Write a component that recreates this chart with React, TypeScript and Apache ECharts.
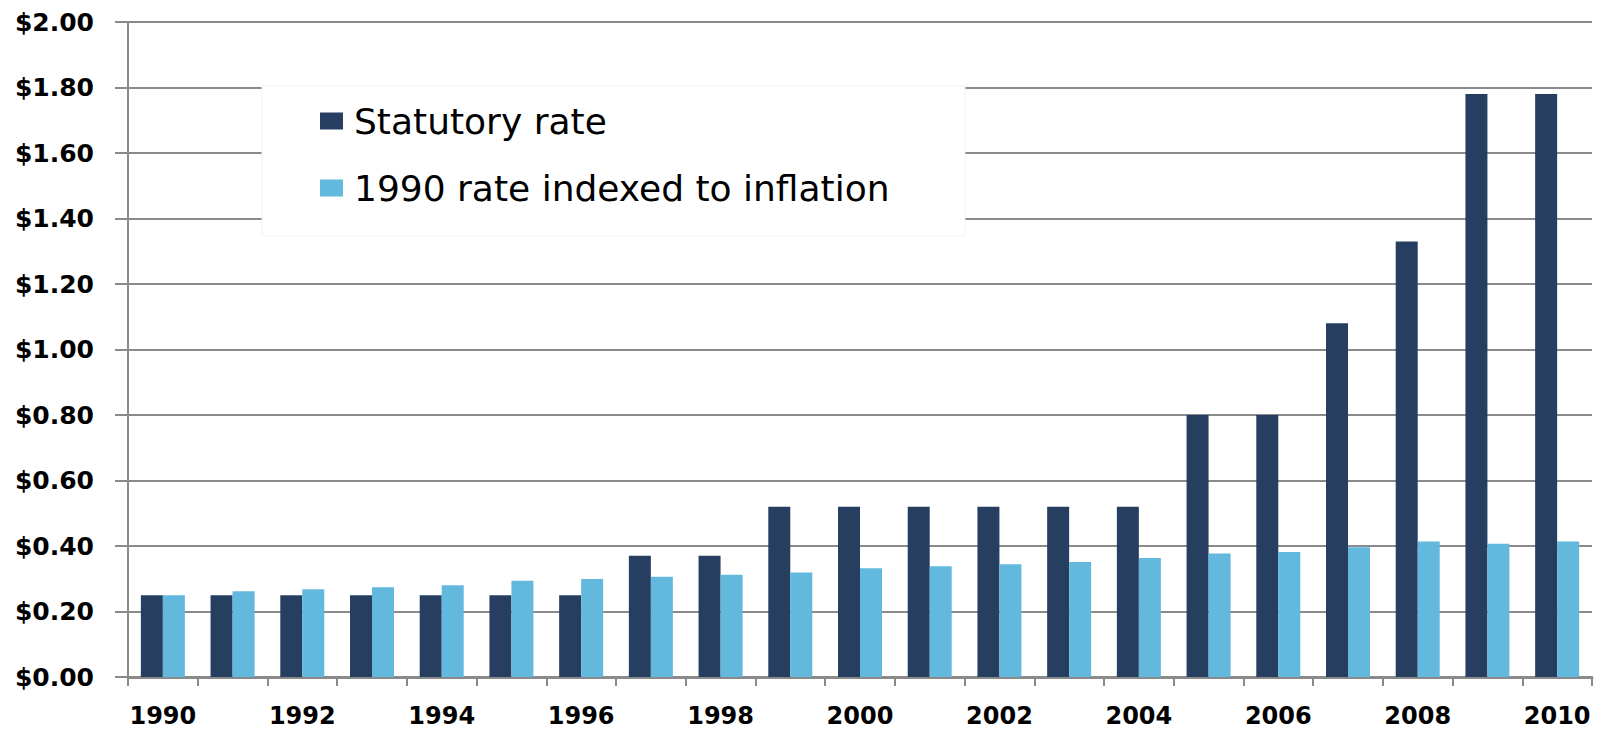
import React, { useEffect, useRef } from "react";
import * as echarts from "echarts";

const years = ["1990","1991","1992","1993","1994","1995","1996","1997","1998","1999","2000","2001","2002","2003","2004","2005","2006","2007","2008","2009","2010"];
const statutoryRate = [0.25,0.25,0.25,0.25,0.25,0.25,0.25,0.37,0.37,0.52,0.52,0.52,0.52,0.52,0.52,0.80,0.80,1.08,1.33,1.78,1.78];
const indexedRate = [0.25,0.262,0.268,0.274,0.28,0.294,0.299,0.306,0.312,0.319,0.332,0.338,0.344,0.351,0.363,0.377,0.382,0.396,0.414,0.407,0.414];
const seriesNames = ["Statutory rate", "1990 rate indexed to inflation"];

export default function App() {
  const ref = useRef<HTMLDivElement>(null);
  useEffect(() => {
    document.body.style.margin = "0";
    const chart = echarts.init(ref.current!, undefined, { renderer: "svg" });
    const axisFont = { fontFamily: "DejaVu Sans", fontWeight: "bold" as const, fontSize: 25, color: "#000" };
    chart.setOption({
      animation: false,
      backgroundColor: "#fff",
      grid: { left: 128, right: 10, top: 22, bottom: 57 },
      legend: {
        orient: "vertical",
        left: 315,
        top: 97,
        itemWidth: 23,
        itemHeight: 17,
        itemGap: 29,
        icon: "rect",
        z: 10,
        textStyle: { fontFamily: "DejaVu Sans", fontSize: 36, color: "#000", lineHeight: 38, padding: [0, 0, 0, 6] },
        data: seriesNames,
      },
      graphic: [
        {
          type: "rect",
          z: 5,
          shape: { x: 262, y: 86, width: 703, height: 150 },
          style: { fill: "#fff", stroke: "#f2f2f2", lineWidth: 1 },
        },
      ],
      xAxis: {
        type: "category",
        data: years,
        axisLine: { lineStyle: { color: "#8a8a8a", width: 3 } },
        axisTick: { show: true, interval: 0, length: 9, lineStyle: { color: "#8a8a8a", width: 2 } },
        axisLabel: { ...axisFont, fontSize: 24, interval: 1, margin: 27 },
        splitLine: { show: false },
      },
      yAxis: {
        type: "value",
        min: 0,
        max: 2,
        interval: 0.2,
        axisLine: { show: true, lineStyle: { color: "#8a8a8a", width: 2 } },
        axisTick: { show: true, length: 13, lineStyle: { color: "#8a8a8a", width: 2 } },
        axisLabel: { ...axisFont, margin: 34, formatter: (v: number) => "$" + v.toFixed(2) },
        splitLine: { show: true, lineStyle: { color: "#8a8a8a", width: 2 } },
      },
      series: [
        {
          name: seriesNames[0],
          type: "bar",
          data: statutoryRate,
          barWidth: 22,
          barGap: "0%",
          itemStyle: { color: "#263F61" },
        },
        {
          name: seriesNames[1],
          type: "bar",
          data: indexedRate,
          barWidth: 22,
          barGap: "0%",
          itemStyle: { color: "#62B8DD" },
        },
      ],
    });
    return () => chart.dispose();
  }, []);
  return <div ref={ref} style={{ width: 1602, height: 734 }} />;
}
